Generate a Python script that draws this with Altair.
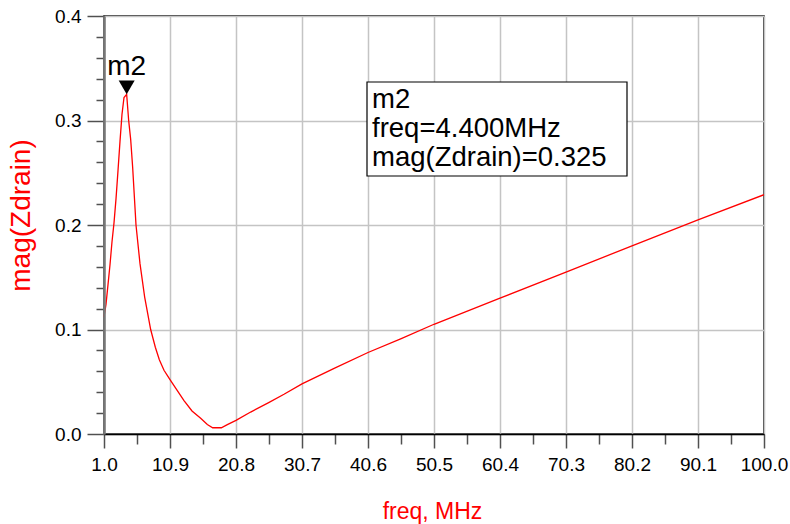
import altair as alt
import pandas as pd

# ---- data ----
freq = [1.0, 1.3, 1.6, 1.9, 2.2, 2.5, 2.8, 3.1, 3.4, 3.7,
        4.0, 4.4, 4.7, 5.0, 5.3, 5.8, 6.4, 7.1, 8.0, 8.7,
        9.3, 10.0, 10.9, 12.0, 13.0, 14.2, 15.5, 16.5, 17.3, 18.6,
        19.5, 20.8, 23.0, 25.7, 28.0, 30.7, 35.6, 40.6, 45.5, 50.5,
        60.4, 70.3, 80.2, 90.1, 100.0]
mag = [0.112, 0.124, 0.143, 0.162, 0.184, 0.202, 0.225, 0.252, 0.280, 0.306,
       0.322, 0.325, 0.300, 0.282, 0.255, 0.200, 0.163, 0.131, 0.100, 0.083,
       0.071, 0.061, 0.052, 0.0415, 0.032, 0.022, 0.015, 0.009, 0.006, 0.006,
       0.009, 0.013, 0.021, 0.030, 0.038, 0.048, 0.063, 0.078, 0.091, 0.105,
       0.130, 0.155, 0.180, 0.205, 0.229]

x_ticks = [1.0, 10.9, 20.8, 30.7, 40.6, 50.5, 60.4, 70.3, 80.2, 90.1, 100.0]
x_minor = [5.95, 15.85, 25.75, 35.65, 45.55, 55.45, 65.35, 75.25, 85.15, 95.05]
y_ticks = [0.0, 0.1, 0.2, 0.3, 0.4]
y_minor = [0.02, 0.04, 0.06, 0.08, 0.12, 0.14, 0.16, 0.18, 0.22, 0.24, 0.26,
           0.28, 0.32, 0.34, 0.36, 0.38]

marker_name = ["m2"]
marker_freq = [4.4]
marker_mag = [0.325]

df = pd.DataFrame({"freq": freq, "mag": mag})
mk = pd.DataFrame({"freq": marker_freq, "mag": marker_mag, "name": marker_name})

FONT = "Liberation Sans"
xscale = alt.Scale(domain=[1, 100], nice=False, zero=False)
yscale = alt.Scale(domain=[0, 0.4], nice=False, zero=False)

main = alt.Chart(df).mark_line(color="#ff0000", strokeWidth=1.3).encode(
    x=alt.X("freq:Q", scale=xscale, axis=alt.Axis(
        values=x_ticks, format=".1f", title="freq, MHz", orient="bottom",
        grid=True, gridColor="#c4c4c4", gridWidth=1.5, domain=False,
        ticks=True, tickSize=14, tickColor="#505050", tickWidth=1.5,
        labelFont=FONT, labelFontSize=19, labelColor="black", labelPadding=7,
        labelFlush=False, labelOverlap=False,
        titleFont=FONT, titleFontSize=23, titleColor="#ff0000",
        titleFontWeight="normal", titleX=328, titleY=77,
        titleBaseline="middle", titleAlign="center")),
    y=alt.Y("mag:Q", scale=yscale, axis=alt.Axis(
        values=y_ticks, format=".1f", title="mag(Zdrain)", orient="left",
        grid=True, gridColor="#c4c4c4", gridWidth=1.5, domain=False,
        ticks=True, tickSize=17, tickColor="#505050", tickWidth=1.5,
        labelFont=FONT, labelFontSize=19, labelColor="black", labelPadding=6,
        labelFlush=False, labelOverlap=False,
        titleFont=FONT, titleFontSize=28, titleColor="#ff0000",
        titleFontWeight="normal", titleX=-83, titleY=199, titleAngle=270,
        titleBaseline="middle", titleAlign="center")),
)

minor = alt.Chart(df).mark_line(opacity=0).encode(
    x=alt.X("freq:Q", scale=xscale, axis=alt.Axis(
        values=x_minor, orient="bottom", labels=False, title=None, grid=False,
        domain=True, domainColor="black", domainWidth=1.5,
        tickSize=10, tickColor="#505050", tickWidth=1.5, zindex=1)),
    y=alt.Y("mag:Q", scale=yscale, axis=alt.Axis(
        values=y_minor, orient="left", labels=False, title=None, grid=False,
        domain=True, domainColor="#777777", domainWidth=2.5,
        tickSize=8, tickColor="#505050", tickWidth=1.5, zindex=1)),
)

tri = alt.Chart(mk).mark_point(shape="triangle-down", filled=True, color="black",
                               opacity=1, size=256, yOffset=-7).encode(
    x=alt.X("freq:Q", scale=xscale, axis=None),
    y=alt.Y("mag:Q", scale=yscale, axis=None),
)

tri_label = alt.Chart(mk).mark_text(font=FONT, fontSize=28, color="black",
                                    dy=-27, baseline="middle", align="center").encode(
    x=alt.X("freq:Q", scale=xscale, axis=None),
    y=alt.Y("mag:Q", scale=yscale, axis=None),
    text="name:N",
)

box_lines = [marker_name[0],
             "freq=%.3fMHz" % marker_freq[0],
             "mag(Zdrain)=%.3f" % marker_mag[0]]

box = alt.Chart(mk).mark_rect(fill="white", stroke="black", strokeWidth=1.2).encode(
    x=alt.value(263), x2=alt.value(523), y=alt.value(66), y2=alt.value(160))

box_text = alt.Chart(mk).mark_text(
    text=box_lines, font=FONT, fontSize=27.5, lineHeight=29, color="black",
    align="left", baseline="middle").encode(
    x=alt.value(268), y=alt.value(84))

chart = alt.layer(main, minor, box, box_text, tri, tri_label).resolve_axis(
    x="independent", y="independent"
).properties(
    width=660, height=418,
    autosize=alt.AutoSizeParams(type="none"),
    padding={"left": 104, "top": 16, "right": 26, "bottom": 90},
    background="white",
).configure_view(stroke="black", strokeWidth=1.5)

chart.save("out.html", embed_options={"renderer": "svg", "actions": False})
